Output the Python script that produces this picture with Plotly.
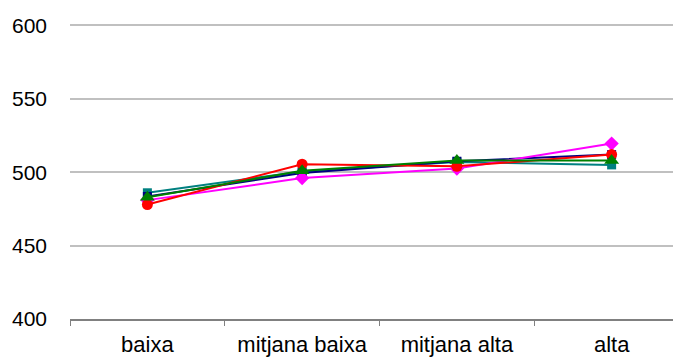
import plotly.graph_objects as go

categories = ["baixa", "mitjana baixa", "mitjana alta", "alta"]
navy_vals = [483.5, 499.5, 507.5, 512.0]
magenta_vals = [481.0, 496.0, 502.5, 519.5]
red_vals = [478.0, 505.5, 504.0, 512.0]
green_vals = [483.0, 501.0, 508.0, 508.0]
teal_vals = [486.0, 500.5, 507.0, 505.0]
y_ticks = [400, 450, 500, 550, 600]

series = [
    ("teal", teal_vals, "#008080", "square", 9),
    ("navy", navy_vals, "#000080", "square", 9),
    ("magenta", magenta_vals, "#FF00FF", "diamond", 11),
    ("red", red_vals, "#FF0000", "circle", 11),
    ("green", green_vals, "#008000", "triangle-up", 13),
]

fig = go.Figure()
for name, vals, color, sym, sz in series:
    fig.add_trace(go.Scatter(
        x=categories, y=vals, mode="lines+markers", name=name,
        line=dict(color=color, width=2),
        marker=dict(color=color, symbol=sym, size=sz, line=dict(width=0)),
        showlegend=False,
    ))

fig.update_layout(
    width=681, height=363,
    margin=dict(l=62, r=0, t=15.5, b=52),
    paper_bgcolor="white", plot_bgcolor="white",
    font=dict(family="Liberation Sans, Arial, sans-serif", size=21, color="#000000"),
    xaxis=dict(
        type="category", categoryorder="array", categoryarray=categories,
        range=[-0.5, 3.5], tickson="boundaries", ticks="outside", ticklen=5,
        tickcolor="#808080", showline=True, linecolor="#808080", linewidth=2,
        showgrid=False, zeroline=False, ticklabelstandoff=5,
        tickfont=dict(size=22),
    ),
    yaxis=dict(
        range=[400, 601], tickvals=y_ticks, showgrid=True, gridcolor="#C0C0C0",
        gridwidth=1.5, zeroline=False, showline=False, ticks="",
        ticklabelstandoff=22,
    ),
)

fig.write_html("out.html")
